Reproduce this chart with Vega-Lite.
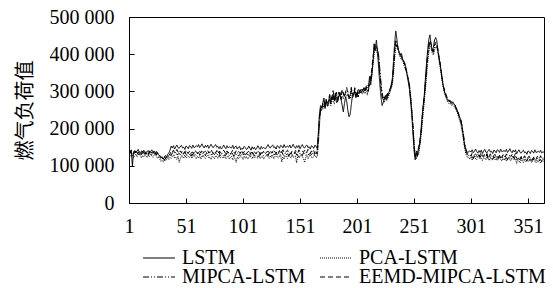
{
"$schema": "https://vega.github.io/schema/vega-lite/v6.json",
"width": 415, "height": 186,
"autosize": "none",
"padding": {"left": 129, "top": 17, "right": 9, "bottom": 85},
"background": "white",
"config": {"view": {"stroke": "black", "strokeWidth": 1}, "font": "Liberation Serif, Times New Roman, serif"},
"data": {"values": [
{"d":1,"L":140000,"P":132000,"M":136000,"E":128000},
{"d":2,"L":136000,"P":128000,"M":141000,"E":133000},
{"d":3,"L":143000,"P":125000,"M":134000,"E":138000},
{"d":4,"L":98000,"P":130000,"M":129000,"E":135000},
{"d":5,"L":138000,"P":122000,"M":137000,"E":131000},
{"d":6,"L":141000,"P":127000,"M":132000,"E":139000},
{"d":7,"L":135000,"P":131000,"M":140000,"E":134000},
{"d":8,"L":139000,"P":124000,"M":135000,"E":129000},
{"d":9,"L":144000,"P":129000,"M":131000,"E":137000},
{"d":10,"L":137000,"P":133000,"M":138000,"E":132000},
{"d":11,"L":133000,"P":126000,"M":128000,"E":136000},
{"d":12,"L":140000,"P":121000,"M":134000,"E":130000},
{"d":13,"L":138000,"P":128000,"M":139000,"E":135000},
{"d":14,"L":142000,"P":124000,"M":133000,"E":141000},
{"d":15,"L":136000,"P":130000,"M":137000,"E":131000},
{"d":16,"L":131000,"P":126000,"M":130000,"E":138000},
{"d":17,"L":139000,"P":122000,"M":136000,"E":133000},
{"d":18,"L":141000,"P":129000,"M":132000,"E":128000},
{"d":19,"L":135000,"P":125000,"M":140000,"E":136000},
{"d":20,"L":138000,"P":131000,"M":134000,"E":130000},
{"d":21,"L":143000,"P":127000,"M":129000,"E":137000},
{"d":22,"L":137000,"P":123000,"M":135000,"E":133000},
{"d":23,"L":140000,"P":128000,"M":138000,"E":139000},
{"d":24,"L":134000,"P":132000,"M":131000,"E":134000},
{"d":25,"L":139000,"P":126000,"M":136000,"E":129000},
{"d":26,"L":136000,"P":120000,"M":130000,"E":135000},
{"d":27,"L":130000,"P":124000,"M":126000,"E":131000},
{"d":28,"L":126000,"P":118000,"M":122000,"E":128000},
{"d":29,"L":121000,"P":112000,"M":119000,"E":124000},
{"d":30,"L":124000,"P":115000,"M":117000,"E":121000},
{"d":31,"L":119000,"P":110000,"M":121000,"E":118000},
{"d":32,"L":123000,"P":116000,"M":115000,"E":125000},
{"d":33,"L":128000,"P":113000,"M":120000,"E":119000},
{"d":34,"L":122000,"P":118000,"M":124000,"E":126000},
{"d":35,"L":131000,"P":121000,"M":119000,"E":123000},
{"d":36,"L":135000,"P":117000,"M":126000,"E":128000},
{"d":37,"L":142000,"P":123000,"M":130000,"E":132000},
{"d":38,"L":153000,"P":120000,"M":127000,"E":139000},
{"d":39,"L":148000,"P":125000,"M":135000,"E":136000},
{"d":40,"L":154000,"P":128000,"M":133000,"E":142000},
{"d":41,"L":145000,"P":121000,"M":128000,"E":134000},
{"d":42,"L":151000,"P":123000,"M":137000,"E":138000},
{"d":43,"L":156000,"P":117000,"M":130000,"E":144000},
{"d":44,"L":149000,"P":126000,"M":131000,"E":137000},
{"d":45,"L":147000,"P":109000,"M":133000,"E":133000},
{"d":46,"L":152000,"P":119000,"M":130000,"E":140000},
{"d":47,"L":155000,"P":127000,"M":136000,"E":135000},
{"d":48,"L":148000,"P":125000,"M":128000,"E":141000},
{"d":49,"L":150000,"P":120000,"M":132000,"E":132000},
{"d":50,"L":144000,"P":129000,"M":138000,"E":138000},
{"d":51,"L":153000,"P":122000,"M":131000,"E":143000},
{"d":52,"L":151000,"P":123000,"M":127000,"E":136000},
{"d":53,"L":146000,"P":125000,"M":134000,"E":134000},
{"d":54,"L":154000,"P":122000,"M":129000,"E":139000},
{"d":55,"L":152000,"P":128000,"M":135000,"E":142000},
{"d":56,"L":147000,"P":120000,"M":126000,"E":135000},
{"d":57,"L":156000,"P":124000,"M":132000,"E":137000},
{"d":58,"L":149000,"P":130000,"M":137000,"E":131000},
{"d":59,"L":150000,"P":123000,"M":130000,"E":140000},
{"d":60,"L":154000,"P":119000,"M":128000,"E":138000},
{"d":61,"L":151000,"P":126000,"M":133000,"E":133000},
{"d":62,"L":157000,"P":121000,"M":136000,"E":141000},
{"d":63,"L":149000,"P":127000,"M":129000,"E":139000},
{"d":64,"L":153000,"P":118000,"M":131000,"E":134000},
{"d":65,"L":159000,"P":124000,"M":125000,"E":143000},
{"d":66,"L":152000,"P":129000,"M":134000,"E":136000},
{"d":67,"L":148000,"P":122000,"M":132000,"E":137000},
{"d":68,"L":155000,"P":120000,"M":127000,"E":139000},
{"d":69,"L":150000,"P":125000,"M":135000,"E":136000},
{"d":70,"L":156000,"P":128000,"M":133000,"E":142000},
{"d":71,"L":147000,"P":121000,"M":128000,"E":134000},
{"d":72,"L":153000,"P":123000,"M":137000,"E":138000},
{"d":73,"L":158000,"P":117000,"M":130000,"E":144000},
{"d":74,"L":151000,"P":126000,"M":131000,"E":137000},
{"d":75,"L":149000,"P":124000,"M":133000,"E":133000},
{"d":76,"L":154000,"P":119000,"M":130000,"E":140000},
{"d":77,"L":157000,"P":127000,"M":136000,"E":135000},
{"d":78,"L":150000,"P":125000,"M":128000,"E":141000},
{"d":79,"L":152000,"P":120000,"M":132000,"E":132000},
{"d":80,"L":146000,"P":129000,"M":138000,"E":138000},
{"d":81,"L":152000,"P":121000,"M":126000,"E":138000},
{"d":82,"L":145000,"P":124000,"M":131000,"E":133000},
{"d":83,"L":149000,"P":122000,"M":133000,"E":135000},
{"d":84,"L":156000,"P":121000,"M":124000,"E":142000},
{"d":85,"L":150000,"P":128000,"M":130000,"E":137000},
{"d":86,"L":146000,"P":119000,"M":128000,"E":131000},
{"d":87,"L":154000,"P":124000,"M":135000,"E":140000},
{"d":88,"L":148000,"P":126000,"M":132000,"E":134000},
{"d":89,"L":151000,"P":118000,"M":127000,"E":139000},
{"d":90,"L":149000,"P":123000,"M":129000,"E":132000},
{"d":91,"L":148000,"P":125000,"M":136000,"E":136000},
{"d":92,"L":155000,"P":116000,"M":131000,"E":143000},
{"d":93,"L":146000,"P":122000,"M":125000,"E":137000},
{"d":94,"L":151000,"P":120000,"M":134000,"E":133000},
{"d":95,"L":153000,"P":109000,"M":128000,"E":141000},
{"d":96,"L":145000,"P":124000,"M":133000,"E":135000},
{"d":97,"L":150000,"P":119000,"M":126000,"E":138000},
{"d":98,"L":152000,"P":121000,"M":130000,"E":136000},
{"d":99,"L":143000,"P":128000,"M":137000,"E":135000},
{"d":100,"L":147000,"P":123000,"M":131000,"E":142000},
{"d":101,"L":145000,"P":117000,"M":127000,"E":133000},
{"d":102,"L":152000,"P":126000,"M":135000,"E":138000},
{"d":103,"L":149000,"P":120000,"M":129000,"E":140000},
{"d":104,"L":144000,"P":125000,"M":132000,"E":132000},
{"d":105,"L":146000,"P":118000,"M":130000,"E":137000},
{"d":106,"L":153000,"P":122000,"M":129000,"E":139000},
{"d":107,"L":148000,"P":129000,"M":136000,"E":130000},
{"d":108,"L":142000,"P":123000,"M":127000,"E":136000},
{"d":109,"L":151000,"P":119000,"M":132000,"E":134000},
{"d":110,"L":145000,"P":127000,"M":134000,"E":141000},
{"d":111,"L":150000,"P":121000,"M":126000,"E":138000},
{"d":112,"L":143000,"P":124000,"M":131000,"E":133000},
{"d":113,"L":147000,"P":122000,"M":133000,"E":135000},
{"d":114,"L":154000,"P":121000,"M":124000,"E":142000},
{"d":115,"L":148000,"P":128000,"M":130000,"E":137000},
{"d":116,"L":144000,"P":119000,"M":128000,"E":131000},
{"d":117,"L":152000,"P":124000,"M":135000,"E":140000},
{"d":118,"L":146000,"P":126000,"M":132000,"E":134000},
{"d":119,"L":149000,"P":118000,"M":127000,"E":139000},
{"d":120,"L":147000,"P":123000,"M":129000,"E":132000},
{"d":121,"L":146000,"P":125000,"M":134000,"E":136000},
{"d":122,"L":152000,"P":131000,"M":132000,"E":137000},
{"d":123,"L":157000,"P":124000,"M":127000,"E":139000},
{"d":124,"L":150000,"P":120000,"M":135000,"E":136000},
{"d":125,"L":148000,"P":127000,"M":133000,"E":142000},
{"d":126,"L":153000,"P":122000,"M":128000,"E":134000},
{"d":127,"L":156000,"P":128000,"M":137000,"E":138000},
{"d":128,"L":149000,"P":119000,"M":130000,"E":144000},
{"d":129,"L":151000,"P":125000,"M":131000,"E":137000},
{"d":130,"L":145000,"P":130000,"M":133000,"E":133000},
{"d":131,"L":154000,"P":123000,"M":130000,"E":140000},
{"d":132,"L":152000,"P":121000,"M":136000,"E":135000},
{"d":133,"L":147000,"P":126000,"M":128000,"E":141000},
{"d":134,"L":155000,"P":129000,"M":132000,"E":132000},
{"d":135,"L":153000,"P":110000,"M":138000,"E":138000},
{"d":136,"L":148000,"P":124000,"M":131000,"E":143000},
{"d":137,"L":157000,"P":118000,"M":127000,"E":136000},
{"d":138,"L":150000,"P":127000,"M":134000,"E":134000},
{"d":139,"L":151000,"P":125000,"M":129000,"E":139000},
{"d":140,"L":153000,"P":120000,"M":135000,"E":142000},
{"d":141,"L":150000,"P":128000,"M":126000,"E":135000},
{"d":142,"L":156000,"P":126000,"M":132000,"E":137000},
{"d":143,"L":148000,"P":121000,"M":137000,"E":131000},
{"d":144,"L":152000,"P":130000,"M":130000,"E":140000},
{"d":145,"L":158000,"P":123000,"M":128000,"E":138000},
{"d":146,"L":151000,"P":124000,"M":133000,"E":133000},
{"d":147,"L":147000,"P":126000,"M":136000,"E":141000},
{"d":148,"L":154000,"P":108000,"M":129000,"E":139000},
{"d":149,"L":149000,"P":129000,"M":131000,"E":134000},
{"d":150,"L":155000,"P":121000,"M":125000,"E":143000},
{"d":151,"L":146000,"P":125000,"M":134000,"E":136000},
{"d":152,"L":152000,"P":131000,"M":132000,"E":137000},
{"d":153,"L":157000,"P":124000,"M":127000,"E":139000},
{"d":154,"L":150000,"P":120000,"M":135000,"E":136000},
{"d":155,"L":148000,"P":109000,"M":133000,"E":142000},
{"d":156,"L":153000,"P":122000,"M":128000,"E":134000},
{"d":157,"L":156000,"P":128000,"M":137000,"E":138000},
{"d":158,"L":149000,"P":119000,"M":130000,"E":144000},
{"d":159,"L":151000,"P":125000,"M":131000,"E":137000},
{"d":160,"L":145000,"P":130000,"M":133000,"E":133000},
{"d":161,"L":154000,"P":123000,"M":130000,"E":140000},
{"d":162,"L":152000,"P":121000,"M":136000,"E":135000},
{"d":163,"L":147000,"P":126000,"M":128000,"E":141000},
{"d":164,"L":155000,"P":129000,"M":132000,"E":132000},
{"d":165,"L":153000,"P":122000,"M":138000,"E":138000},
{"d":166,"L":148000,"P":124000,"M":131000,"E":143000},
{"d":167,"L":185000,"P":150000,"M":168000,"E":175000},
{"d":168,"L":238000,"P":205000,"M":222000,"E":230000},
{"d":169,"L":262000,"P":245000,"M":250000,"E":255000},
{"d":170,"L":255000,"P":258000,"M":262000,"E":248000},
{"d":171,"L":270000,"P":252000,"M":265000,"E":268000},
{"d":172,"L":282000,"P":266000,"M":258000,"E":275000},
{"d":173,"L":254000,"P":258000,"M":262000,"E":260000},
{"d":174,"L":278000,"P":278000,"M":280000,"E":270000},
{"d":175,"L":269000,"P":259000,"M":261000,"E":269000},
{"d":176,"L":270000,"P":262000,"M":268000,"E":274000},
{"d":177,"L":292000,"P":280000,"M":282000,"E":290000},
{"d":178,"L":270000,"P":262000,"M":280000,"E":266000},
{"d":179,"L":284000,"P":286000,"M":278000,"E":286000},
{"d":180,"L":292000,"P":272000,"M":286000,"E":302000},
{"d":181,"L":277000,"P":275000,"M":265000,"E":279000},
{"d":182,"L":296000,"P":292000,"M":290000,"E":278000},
{"d":183,"L":270000,"P":284000,"M":292000,"E":298000},
{"d":184,"L":275000,"P":271000,"M":273000,"E":279000},
{"d":185,"L":285000,"P":288000,"M":296000,"E":298000},
{"d":186,"L":295000,"P":299000,"M":297000,"E":285000},
{"d":187,"L":279000,"P":277000,"M":279000,"E":289000},
{"d":188,"L":262000,"P":287000,"M":303000,"E":305000},
{"d":189,"L":245000,"P":280000,"M":294000,"E":296000},
{"d":190,"L":268000,"P":290000,"M":288000,"E":284000},
{"d":191,"L":286000,"P":292000,"M":298000,"E":300000},
{"d":192,"L":272000,"P":287000,"M":297000,"E":311000},
{"d":193,"L":248000,"P":294000,"M":300000,"E":288000},
{"d":194,"L":232000,"P":286000,"M":280000,"E":288000},
{"d":195,"L":238000,"P":282000,"M":294000,"E":282000},
{"d":196,"L":265000,"P":305000,"M":311000,"E":305000},
{"d":197,"L":290000,"P":283000,"M":289000,"E":293000},
{"d":198,"L":293000,"P":291000,"M":287000,"E":289000},
{"d":199,"L":302000,"P":300000,"M":306000,"E":310000},
{"d":200,"L":283000,"P":287000,"M":289000,"E":299000},
{"d":201,"L":296000,"P":294000,"M":296000,"E":284000},
{"d":202,"L":299000,"P":285000,"M":285000,"E":309000},
{"d":203,"L":295000,"P":299000,"M":303000,"E":301000},
{"d":204,"L":304000,"P":304000,"M":306000,"E":296000},
{"d":205,"L":305000,"P":295000,"M":297000,"E":305000},
{"d":206,"L":301000,"P":293000,"M":299000,"E":305000},
{"d":207,"L":310000,"P":298000,"M":300000,"E":308000},
{"d":208,"L":302000,"P":294000,"M":312000,"E":298000},
{"d":209,"L":310000,"P":312000,"M":304000,"E":312000},
{"d":210,"L":310000,"P":290000,"M":304000,"E":320000},
{"d":211,"L":312000,"P":310000,"M":300000,"E":314000},
{"d":212,"L":340000,"P":328000,"M":326000,"E":314000},
{"d":213,"L":318000,"P":328000,"M":334000,"E":340000},
{"d":214,"L":345000,"P":342000,"M":352000,"E":360000},
{"d":215,"L":380000,"P":372000,"M":385000,"E":392000},
{"d":216,"L":428000,"P":398000,"M":410000,"E":418000},
{"d":217,"L":410000,"P":415000,"M":425000,"E":428000},
{"d":218,"L":438000,"P":408000,"M":418000,"E":422000},
{"d":219,"L":405000,"P":400000,"M":415000,"E":410000},
{"d":220,"L":360000,"P":385000,"M":395000,"E":392000},
{"d":221,"L":320000,"P":350000,"M":360000,"E":345000},
{"d":222,"L":285000,"P":315000,"M":325000,"E":310000},
{"d":223,"L":262000,"P":292000,"M":296000,"E":285000},
{"d":224,"L":270000,"P":278000,"M":282000,"E":275000},
{"d":225,"L":281000,"P":270000,"M":286000,"E":280000},
{"d":226,"L":288000,"P":282000,"M":278000,"E":290000},
{"d":227,"L":276000,"P":287000,"M":292000,"E":282000},
{"d":228,"L":292000,"P":280000,"M":295000,"E":294000},
{"d":229,"L":298000,"P":292000,"M":288000,"E":296000},
{"d":230,"L":305000,"P":298000,"M":302000,"E":308000},
{"d":231,"L":318000,"P":308000,"M":312000,"E":315000},
{"d":232,"L":335000,"P":318000,"M":330000,"E":326000},
{"d":233,"L":380000,"P":345000,"M":362000,"E":368000},
{"d":234,"L":430000,"P":390000,"M":405000,"E":412000},
{"d":235,"L":462000,"P":415000,"M":428000,"E":436000},
{"d":236,"L":440000,"P":425000,"M":420000,"E":430000},
{"d":237,"L":412000,"P":415000,"M":412000,"E":418000},
{"d":238,"L":408000,"P":398000,"M":402000,"E":404000},
{"d":239,"L":398000,"P":392000,"M":396000,"E":400000},
{"d":240,"L":402000,"P":385000,"M":392000,"E":395000},
{"d":241,"L":384000,"P":388000,"M":385000,"E":390000},
{"d":242,"L":378000,"P":372000,"M":380000,"E":382000},
{"d":243,"L":376000,"P":362000,"M":368000,"E":372000},
{"d":244,"L":362000,"P":355000,"M":360000,"E":358000},
{"d":245,"L":342000,"P":345000,"M":348000,"E":346000},
{"d":246,"L":325000,"P":330000,"M":336000,"E":332000},
{"d":247,"L":305000,"P":316000,"M":312000,"E":318000},
{"d":248,"L":272000,"P":290000,"M":285000,"E":282000},
{"d":249,"L":238000,"P":252000,"M":248000,"E":246000},
{"d":250,"L":190000,"P":212000,"M":205000,"E":208000},
{"d":251,"L":142000,"P":165000,"M":158000,"E":152000},
{"d":252,"L":116000,"P":128000,"M":122000,"E":126000},
{"d":253,"L":134000,"P":118000,"M":140000,"E":132000},
{"d":254,"L":125000,"P":138000,"M":128000,"E":136000},
{"d":255,"L":152000,"P":130000,"M":146000,"E":140000},
{"d":256,"L":160000,"P":152000,"M":158000,"E":164000},
{"d":257,"L":192000,"P":175000,"M":182000,"E":186000},
{"d":258,"L":230000,"P":205000,"M":218000,"E":222000},
{"d":259,"L":262000,"P":240000,"M":255000,"E":258000},
{"d":260,"L":290000,"P":272000,"M":282000,"E":286000},
{"d":261,"L":335000,"P":305000,"M":318000,"E":325000},
{"d":262,"L":378000,"P":342000,"M":355000,"E":362000},
{"d":263,"L":412000,"P":378000,"M":392000,"E":400000},
{"d":264,"L":440000,"P":405000,"M":420000,"E":428000},
{"d":265,"L":452000,"P":422000,"M":432000,"E":438000},
{"d":266,"L":425000,"P":418000,"M":425000,"E":428000},
{"d":267,"L":410000,"P":402000,"M":408000,"E":412000},
{"d":268,"L":418000,"P":398000,"M":405000,"E":408000},
{"d":269,"L":438000,"P":412000,"M":420000,"E":425000},
{"d":270,"L":445000,"P":420000,"M":428000,"E":432000},
{"d":271,"L":436000,"P":418000,"M":425000,"E":428000},
{"d":272,"L":410000,"P":402000,"M":408000,"E":410000},
{"d":273,"L":388000,"P":382000,"M":390000,"E":392000},
{"d":274,"L":372000,"P":362000,"M":370000,"E":375000},
{"d":275,"L":348000,"P":342000,"M":350000,"E":352000},
{"d":276,"L":325000,"P":322000,"M":328000,"E":330000},
{"d":277,"L":308000,"P":305000,"M":312000,"E":310000},
{"d":278,"L":296000,"P":292000,"M":298000,"E":300000},
{"d":279,"L":286000,"P":284000,"M":290000,"E":292000},
{"d":280,"L":280000,"P":275000,"M":282000,"E":284000},
{"d":281,"L":274000,"P":270000,"M":278000,"E":279000},
{"d":282,"L":276000,"P":266000,"M":272000,"E":274000},
{"d":283,"L":270000,"P":268000,"M":275000,"E":272000},
{"d":284,"L":268000,"P":262000,"M":270000,"E":271000},
{"d":285,"L":272000,"P":264000,"M":266000,"E":268000},
{"d":286,"L":266000,"P":260000,"M":268000,"E":265000},
{"d":287,"L":262000,"P":255000,"M":260000,"E":264000},
{"d":288,"L":254000,"P":250000,"M":256000,"E":252000},
{"d":289,"L":246000,"P":242000,"M":248000,"E":250000},
{"d":290,"L":238000,"P":232000,"M":240000,"E":242000},
{"d":291,"L":230000,"P":222000,"M":232000,"E":228000},
{"d":292,"L":220000,"P":212000,"M":224000,"E":225000},
{"d":293,"L":208000,"P":196000,"M":210000,"E":205000},
{"d":294,"L":188000,"P":176000,"M":192000,"E":185000},
{"d":295,"L":165000,"P":155000,"M":170000,"E":160000},
{"d":296,"L":148000,"P":138000,"M":150000,"E":145000},
{"d":297,"L":140000,"P":128000,"M":138000,"E":135000},
{"d":298,"L":136000,"P":122000,"M":132000,"E":130000},
{"d":299,"L":138000,"P":123000,"M":127000,"E":133000},
{"d":300,"L":140000,"P":118000,"M":130000,"E":131000},
{"d":301,"L":137000,"P":124000,"M":123000,"E":126000},
{"d":302,"L":143000,"P":115000,"M":125000,"E":135000},
{"d":303,"L":135000,"P":121000,"M":119000,"E":128000},
{"d":304,"L":139000,"P":126000,"M":128000,"E":129000},
{"d":305,"L":145000,"P":119000,"M":126000,"E":131000},
{"d":306,"L":138000,"P":117000,"M":121000,"E":128000},
{"d":307,"L":134000,"P":122000,"M":129000,"E":134000},
{"d":308,"L":141000,"P":125000,"M":127000,"E":126000},
{"d":309,"L":136000,"P":118000,"M":122000,"E":130000},
{"d":310,"L":142000,"P":120000,"M":131000,"E":136000},
{"d":311,"L":133000,"P":114000,"M":124000,"E":129000},
{"d":312,"L":139000,"P":123000,"M":125000,"E":125000},
{"d":313,"L":144000,"P":121000,"M":127000,"E":132000},
{"d":314,"L":137000,"P":116000,"M":124000,"E":127000},
{"d":315,"L":135000,"P":124000,"M":130000,"E":133000},
{"d":316,"L":141000,"P":119000,"M":119000,"E":121000},
{"d":317,"L":144000,"P":114000,"M":123000,"E":127000},
{"d":318,"L":137000,"P":123000,"M":129000,"E":132000},
{"d":319,"L":139000,"P":116000,"M":122000,"E":125000},
{"d":320,"L":133000,"P":117000,"M":118000,"E":123000},
{"d":321,"L":142000,"P":119000,"M":125000,"E":128000},
{"d":322,"L":140000,"P":116000,"M":120000,"E":131000},
{"d":323,"L":135000,"P":122000,"M":126000,"E":124000},
{"d":324,"L":143000,"P":114000,"M":117000,"E":126000},
{"d":325,"L":141000,"P":118000,"M":123000,"E":120000},
{"d":326,"L":136000,"P":124000,"M":128000,"E":129000},
{"d":327,"L":145000,"P":117000,"M":121000,"E":127000},
{"d":328,"L":138000,"P":113000,"M":119000,"E":122000},
{"d":329,"L":139000,"P":120000,"M":124000,"E":130000},
{"d":330,"L":141000,"P":115000,"M":127000,"E":128000},
{"d":331,"L":138000,"P":121000,"M":120000,"E":123000},
{"d":332,"L":144000,"P":112000,"M":122000,"E":132000},
{"d":333,"L":136000,"P":118000,"M":116000,"E":125000},
{"d":334,"L":140000,"P":123000,"M":125000,"E":126000},
{"d":335,"L":146000,"P":116000,"M":123000,"E":128000},
{"d":336,"L":139000,"P":114000,"M":118000,"E":125000},
{"d":337,"L":135000,"P":119000,"M":126000,"E":131000},
{"d":338,"L":142000,"P":122000,"M":124000,"E":123000},
{"d":339,"L":137000,"P":115000,"M":119000,"E":127000},
{"d":340,"L":143000,"P":117000,"M":128000,"E":133000},
{"d":341,"L":132000,"P":106000,"M":116000,"E":121000},
{"d":342,"L":138000,"P":115000,"M":117000,"E":117000},
{"d":343,"L":143000,"P":113000,"M":119000,"E":124000},
{"d":344,"L":136000,"P":108000,"M":116000,"E":119000},
{"d":345,"L":134000,"P":116000,"M":122000,"E":125000},
{"d":346,"L":139000,"P":114000,"M":114000,"E":116000},
{"d":347,"L":142000,"P":109000,"M":118000,"E":122000},
{"d":348,"L":135000,"P":118000,"M":124000,"E":127000},
{"d":349,"L":137000,"P":111000,"M":117000,"E":120000},
{"d":350,"L":131000,"P":112000,"M":113000,"E":118000},
{"d":351,"L":140000,"P":114000,"M":120000,"E":123000},
{"d":352,"L":138000,"P":111000,"M":115000,"E":126000},
{"d":353,"L":133000,"P":117000,"M":121000,"E":119000},
{"d":354,"L":141000,"P":109000,"M":112000,"E":121000},
{"d":355,"L":139000,"P":113000,"M":118000,"E":115000},
{"d":356,"L":134000,"P":119000,"M":123000,"E":124000},
{"d":357,"L":143000,"P":112000,"M":116000,"E":122000},
{"d":358,"L":136000,"P":108000,"M":114000,"E":117000},
{"d":359,"L":137000,"P":115000,"M":119000,"E":125000},
{"d":360,"L":139000,"P":110000,"M":122000,"E":123000},
{"d":361,"L":136000,"P":116000,"M":115000,"E":118000},
{"d":362,"L":142000,"P":107000,"M":117000,"E":127000},
{"d":363,"L":134000,"P":113000,"M":111000,"E":120000},
{"d":364,"L":138000,"P":118000,"M":120000,"E":121000},
{"d":365,"L":136000,"P":111000,"M":118000,"E":123000}
]},
"transform": [{"fold": ["L", "P", "M", "E"], "as": ["model", "value"]}],
"encoding": {
  "x": {"field": "d", "type": "quantitative",
    "scale": {"domain": [1, 365], "nice": false},
    "axis": {"values": [1, 51, 101, 151, 201, 251, 301, 351], "format": "d", "title": null, "grid": false,
      "tickSize": -5, "tickColor": "black", "domainColor": "black", "labelColor": "black",
      "labelFont": "Liberation Serif, Times New Roman, serif", "labelFontSize": 20, "labelPadding": 18, "labelFlush": false, "labelOverlap": false}},
  "y": {"field": "value", "type": "quantitative",
    "scale": {"domain": [0, 500000], "nice": false},
    "axis": {"values": [0, 100000, 200000, 300000, 400000, 500000], "labelExpr": "replace(format(datum.value, ','), ',', ' ')",
      "title": "燃气负荷值", "titleFont": "Noto Sans CJK SC", "titleFontSize": 20, "titleFontWeight": "normal", "titleColor": "black", "titlePadding": 14,
      "grid": false, "tickSize": -5, "tickColor": "black", "domainColor": "black", "labelColor": "black",
      "labelFont": "Liberation Serif, Times New Roman, serif", "labelFontSize": 20, "labelPadding": 20, "labelOverlap": false}}
},
"layer": [
  {
    "transform": [{"filter": {"field": "model", "oneOf": ["L", "P"]}}],
    "mark": {"type": "line", "strokeWidth": 1, "color": "black", "clip": true},
    "encoding": {
      "strokeDash": {"field": "model", "type": "nominal",
        "scale": {"domain": ["L", "P"], "range": [[1, 0], [1, 1]]},
        "legend": {"orient": "none", "legendX": 13, "legendY": 224, "columns": 2, "title": null,
          "symbolType": "stroke", "symbolSize": 1024, "symbolStrokeColor": "black", "symbolStrokeWidth": 1.2,
          "labelFont": "Liberation Serif, Times New Roman, serif", "labelFontSize": 20, "labelColor": "black", "labelOffset": 6, "labelLimit": 0,
          "columnPadding": 81, "padding": 0,
          "labelExpr": "datum.label == 'L' ? 'LSTM' : 'PCA-LSTM'"}}
    }
  },
  {
    "transform": [{"filter": {"field": "model", "oneOf": ["M", "E"]}}],
    "mark": {"type": "line", "strokeWidth": 1, "color": "black", "clip": true},
    "encoding": {
      "strokeDash": {"field": "model", "type": "nominal",
        "scale": {"domain": ["M", "E"], "range": [[6, 2, 1, 2, 1, 2], [5, 3]]},
        "legend": {"orient": "none", "legendX": 13, "legendY": 243, "columns": 2, "title": null,
          "symbolType": "stroke", "symbolSize": 1024, "symbolStrokeColor": "black", "symbolStrokeWidth": 1.2,
          "labelFont": "Liberation Serif, Times New Roman, serif", "labelFontSize": 20, "labelColor": "black", "labelOffset": 6, "labelLimit": 0,
          "columnPadding": 11, "padding": 0,
          "labelExpr": "datum.label == 'M' ? 'MIPCA-LSTM' : 'EEMD-MIPCA-LSTM'"}}
    }
  }
],
"resolve": {"scale": {"strokeDash": "independent"}, "legend": {"strokeDash": "independent"}}
}
